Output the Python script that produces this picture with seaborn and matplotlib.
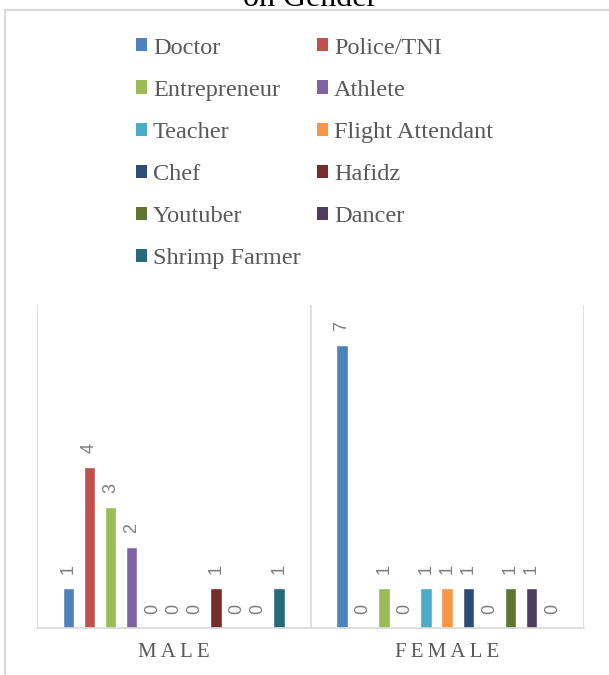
import matplotlib
matplotlib.use("Agg")
import matplotlib.pyplot as plt
import seaborn as sns
import pandas as pd
from matplotlib.patches import Patch
from matplotlib.lines import Line2D

genders = ["MALE", "FEMALE"]
jobs = ["Doctor", "Police/TNI", "Entrepreneur", "Athlete", "Teacher",
        "Flight Attendant", "Chef", "Hafidz", "Youtuber", "Dancer", "Shrimp Farmer"]
male_counts = [1, 4, 3, 2, 0, 0, 0, 1, 0, 0, 1]
female_counts = [7, 0, 1, 0, 1, 1, 1, 0, 1, 1, 0]
colors = ["#4F81BD", "#C0504D", "#9BBB59", "#8064A2", "#4BACC6", "#F79646",
          "#2C4D75", "#772C2A", "#5F7530", "#4D3B62", "#276A7C"]
title_text = "on Gender"

rows = []
for j, m, f in zip(jobs, male_counts, female_counts):
    rows.append({"Gender": genders[0], "Job": j, "Count": m})
    rows.append({"Gender": genders[1], "Job": j, "Count": f})
df = pd.DataFrame(rows)

sns.set_style("white")
plt.rcParams["font.family"] = ["Liberation Serif", "DejaVu Serif"]

fig = plt.figure(figsize=(6.09, 6.75), dpi=100)
ax = fig.add_axes([37/609, 1-628/675, (584-37)/609, (628-305)/675])

sns.barplot(data=df, x="Gender", y="Count", hue="Job", order=genders,
            hue_order=jobs, palette=colors, width=0.846, gap=0.45,
            ax=ax, legend=False, saturation=1)

ax.set_ylim(0, 8)
ax.set_xlim(-0.5, 1.5)
ax.set_xlabel("")
ax.set_ylabel("")
ax.set_yticks([])
for s in ["top", "left", "right"]:
    ax.spines[s].set_visible(False)
ax.spines["bottom"].set_color("#d9d9d9")
ax.spines["bottom"].set_linewidth(1.2)
for xv in [-0.5, 0.5, 1.5]:
    ax.axvline(xv, color="#d9d9d9", lw=1.2, zorder=0)

ax.set_xticks([0, 1])
ax.set_xticklabels(["\u2009".join(g) for g in genders])
ax.tick_params(axis="x", length=0, pad=11, labelsize=15, labelcolor="#595959")

for cont in ax.containers:
    for bar in cont:
        h = bar.get_height()
        ax.annotate(f"{int(round(h))}", (bar.get_x() + bar.get_width()/2, h),
                    xytext=(0, 10), textcoords="offset points",
                    ha="center", va="bottom", rotation=90,
                    fontsize=13, color="#7f7f7f",
                    family=["Liberation Sans", "DejaVu Sans"])

handles = [Patch(facecolor=c, edgecolor="none") for c in colors]
order = [0, 2, 4, 6, 8, 10, 1, 3, 5, 7, 9]
leg = fig.legend([handles[i] for i in order], [jobs[i] for i in order],
                 loc="upper left", bbox_to_anchor=(136/609, 1-37.5/675),
                 ncol=2, frameon=False, fontsize=17.5,
                 handlelength=0.45, handleheight=0.45, handletextpad=0.25,
                 columnspacing=0.68, labelspacing=0.87,
                 borderpad=0, borderaxespad=0)
for t in leg.get_texts():
    t.set_color("#595959")

# outer chart border (cropped)
fig.add_artist(Line2D([5/609, 5/609], [0, 1-10/675], color="#d9d9d9", lw=1.5,
                      transform=fig.transFigure))
fig.add_artist(Line2D([5/609, 1], [1-10/675, 1-10/675], color="#d9d9d9", lw=1.5,
                      transform=fig.transFigure))

fig.text(310/609, 1-6/675, title_text, ha="center", va="baseline",
         fontsize=23, color="#000000")

fig.savefig("out.png", dpi=100)
